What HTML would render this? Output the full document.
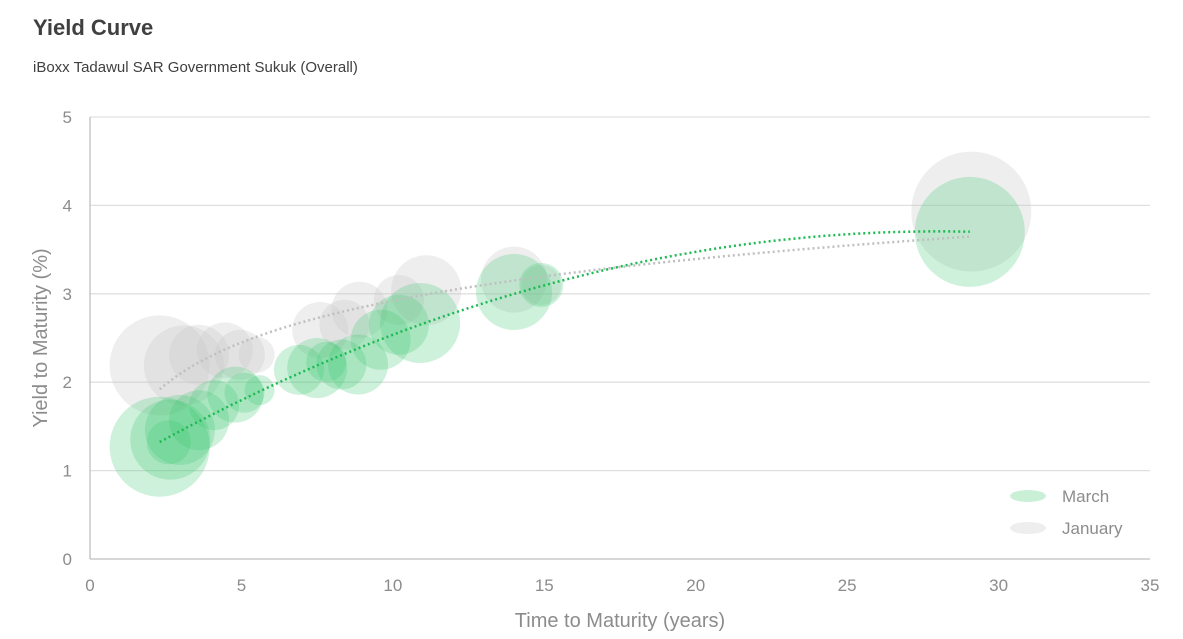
<!DOCTYPE html>
<html><head><meta charset="utf-8"><style>
body{margin:0;background:#fff;font-family:"Liberation Sans",sans-serif}
#wrap{position:relative;width:1183px;height:639px;overflow:hidden}
</style></head><body>
<div id="wrap">
<svg id="chart" width="1183" height="639">
<text x="33" y="35" font-size="22" font-weight="bold" fill="#404040">Yield Curve</text>
<text x="33" y="72" font-size="15" fill="#404040">iBoxx Tadawul SAR Government Sukuk (Overall)</text>
<g id="grid"></g><g id="bubbles"></g><g id="trends"></g><g id="axes"></g>
<g>
<ellipse cx="1028" cy="496" rx="18" ry="6" fill="rgba(60,200,110,0.28)"/>
<text x="1062" y="502" font-size="17" fill="#8c8c8c">March</text>
<ellipse cx="1028" cy="528" rx="18" ry="6" fill="rgba(200,200,200,0.3)"/>
<text x="1062" y="534" font-size="17" fill="#8c8c8c">January</text>
</g>
<text x="620" y="627" font-size="20" fill="#8c8c8c" text-anchor="middle">Time to Maturity (years)</text>
<text transform="translate(47,338) rotate(-90)" font-size="20" fill="#8c8c8c" text-anchor="middle">Yield to Maturity (%)</text>
</svg></div>
<script>
const marchX=[2.3,2.65,2.6,2.97,3.6,4.1,4.8,5.1,5.6,6.9,7.5,7.8,8.3,8.85,9.6,10.2,10.9,14,14.9,29.05];
const marchY=[1.27,1.35,1.32,1.46,1.57,1.74,1.86,1.88,1.91,2.14,2.16,2.23,2.2,2.2,2.48,2.65,2.67,3.02,3.1,3.7];
const marchR=[50,40,22,35,30,25,28,20,15,25,30,20,25,30,30,30,40,38,22,55];
const janX=[2.3,3.1,3.6,4.45,4.95,5.5,7.6,8.4,8.9,10.2,11.1,14,14.9,29.1];
const janY=[2.19,2.19,2.31,2.36,2.31,2.31,2.59,2.65,2.82,2.93,3.04,3.16,3.1,3.93];
const janR=[50,40,30,28,25,18,28,25,28,25,35,33,20,60];
const xTicks=[0,5,10,15,20,25,30,35];
const yTicks=[0,1,2,3,4,5];
const NS="http://www.w3.org/2000/svg";
const xs=v=>90+v*(1060/35), ys=v=>559-v*88.4;
function mk(t,a,p){const e=document.createElementNS(NS,t);for(const k in a)e.setAttribute(k,a[k]);p.appendChild(e);return e;}
const grid=document.getElementById('grid'),axes=document.getElementById('axes'),bub=document.getElementById('bubbles'),tr=document.getElementById('trends');
yTicks.forEach(v=>{const l=mk('line',{x1:90,x2:1150,y1:ys(v),y2:ys(v),stroke:v===0?'#bfbfbf':'#e0e0e0','stroke-width':1.3},grid);

const t=mk('text',{x:72,y:ys(v)+6,'font-size':17,fill:'#8c8c8c','text-anchor':'end'},axes);t.textContent=v;
});
const ya=mk('line',{x1:90,x2:90,y1:117,y2:559,stroke:'#bfbfbf','stroke-width':1.3},axes);

xTicks.forEach(v=>{const t=mk('text',{x:xs(v),y:591,'font-size':17,fill:'#8c8c8c','text-anchor':'middle'},axes);t.textContent=v;
});
janX.forEach((x,i)=>{const c=mk('circle',{cx:xs(x),cy:ys(janY[i]),r:janR[i],fill:'rgba(200,200,200,0.3)'},bub);
});
marchX.forEach((x,i)=>{const c=mk('circle',{cx:xs(x),cy:ys(marchY[i]),r:marchR[i],fill:'rgba(60,200,110,0.25)'},bub);
});
function fit(X,Y,f){ // least squares y = sum c_k f_k(x)
 const n=f.length,A=[...Array(n)].map(()=>Array(n+1).fill(0));
 X.forEach((x,i)=>{const b=f.map(g=>g(x));for(let r=0;r<n;r++){for(let c=0;c<n;c++)A[r][c]+=b[r]*b[c];A[r][n]+=b[r]*Y[i];}});
 for(let i=0;i<n;i++){for(let j=i+1;j<n;j++){const m=A[j][i]/A[i][i];for(let k=i;k<=n;k++)A[j][k]-=m*A[i][k];}}
 const c=Array(n);for(let i=n-1;i>=0;i--){let s=A[i][n];for(let k=i+1;k<n;k++)s-=A[i][k]*c[k];c[i]=s/A[i][i];}
 return x=>f.reduce((s,g,k)=>s+c[k]*g(x),0);}
function trend(X,Y,f,col,name){const fn=fit(X,Y,f);const a=Math.min(...X),b=Math.max(...X);let d='';
 for(let i=0;i<=100;i++){const x=a+(b-a)*i/100;d+=(i?'L':'M')+xs(x).toFixed(1)+','+ys(fn(x)).toFixed(1);}
 const p=mk('path',{d:d,fill:'none',stroke:col,'stroke-width':2.5,'stroke-dasharray':'2 3'},tr);
 }
trend(janX,janY,[x=>1,x=>Math.log(x)],'#bfbfbf','january-trendline');
trend(marchX,marchY,[x=>1,x=>x,x=>x*x],'#1db954','march-trendline');
</script></body></html>
